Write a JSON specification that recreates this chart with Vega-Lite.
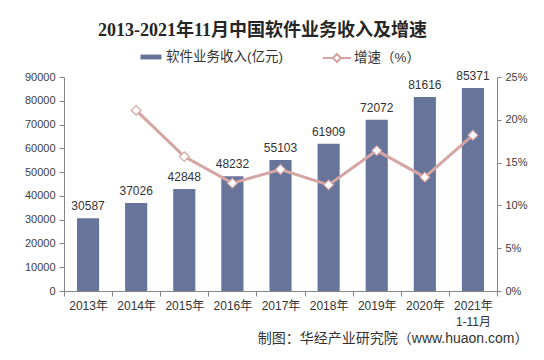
{
  "$schema": "https://vega.github.io/schema/vega-lite/v6.json",
  "width": 433,
  "height": 214,
  "autosize": {"type": "none"},
  "padding": {"left": 64, "top": 77, "right": 47, "bottom": 69},
  "background": "white",
  "config": {
    "view": {"stroke": null},
    "font": "Liberation Sans, Noto Sans CJK SC",
    "axis": {"grid": false, "domainColor": "#868686", "tickColor": "#868686", "labelColor": "#404040", "labelFont": "Liberation Sans, Noto Sans CJK SC", "titleFont": "Liberation Sans, Noto Sans CJK SC"}
  },
  "title": {
    "text": "2013-2021年11月中国软件业务收入及增速",
    "font": "Liberation Serif, Noto Sans CJK SC",
    "fontSize": 18,
    "fontWeight": "bold",
    "color": "#262626",
    "anchor": "middle",
    "dx": -18,
    "offset": 9
  },
  "data": {
    "values": [
      {"year": "2013年", "revenue": 30587, "growth": null},
      {"year": "2014年", "revenue": 37026, "growth": 21.1},
      {"year": "2015年", "revenue": 42848, "growth": 15.7},
      {"year": "2016年", "revenue": 48232, "growth": 12.6},
      {"year": "2017年", "revenue": 55103, "growth": 14.2},
      {"year": "2018年", "revenue": 61909, "growth": 12.4},
      {"year": "2019年", "revenue": 72072, "growth": 16.4},
      {"year": "2020年", "revenue": 81616, "growth": 13.3},
      {"year": "2021年", "revenue": 85371, "growth": 18.2}
    ]
  },
  "encoding": {
    "x": {
      "field": "year",
      "type": "nominal",
      "sort": null,
      "scale": {"paddingInner": 0, "paddingOuter": 0},
      "axis": {
        "labelAngle": 0,
        "labelFontSize": 12,
        "labelColor": "#333333",
        "tickBand": "extent",
        "tickSize": 5,
        "labelPadding": 4,
        "labelLineHeight": 16,
        "labelExpr": "datum.value == '2021年' ? ['2021年', '1-11月'] : datum.value",
        "title": "制图：华经产业研究院（www.huaon.com）",
        "titleFontSize": 14,
        "titleFontWeight": "normal",
        "titleColor": "#333333",
        "titleX": 464,
        "titleY": 47,
        "titleAlign": "right",
        "titleBaseline": "middle"
      }
    }
  },
  "layer": [
    {
      "encoding": {
        "y": {
          "field": "revenue",
          "type": "quantitative",
          "scale": {"domain": [0, 90000]},
          "axis": {"orient": "left", "values": [0, 10000, 20000, 30000, 40000, 50000, 60000, 70000, 80000, 90000], "format": "d", "title": null, "labelFontSize": 11, "tickSize": 5, "labelPadding": 4}
        }
      },
      "layer": [
        {
          "mark": {"type": "bar", "width": {"band": 0.46}},
          "encoding": {
            "fill": {
              "datum": "软件业务收入(亿元)",
              "scale": {"range": ["#68759b"]},
              "legend": {
                "title": null,
                "orient": "none",
                "legendX": 80,
                "legendY": -27,
                "symbolType": "M-1.5,-0.35H1.5V0.35H-1.5Z",
                "symbolSize": 196,
                "symbolStrokeWidth": 0,
                "labelOffset": 8,
                "labelFontSize": 13.5,
                "labelColor": "#333333"
              }
            }
          }
        },
        {
          "mark": {"type": "text", "baseline": "bottom", "dy": -5, "fontSize": 12, "color": "#333333"},
          "encoding": {"text": {"field": "revenue", "type": "quantitative", "format": "d"}}
        }
      ]
    },
    {
      "mark": {
        "type": "line",
        "strokeWidth": 3,
        "point": {"filled": true, "fill": "white", "shape": "diamond", "size": 95, "strokeWidth": 1.2}
      },
      "encoding": {
        "y": {
          "field": "growth",
          "type": "quantitative",
          "scale": {"domain": [0, 25]},
          "axis": {"orient": "right", "values": [0, 5, 10, 15, 20, 25], "labelExpr": "datum.value + '%'", "title": null, "labelFontSize": 11, "tickSize": 4, "labelPadding": 4}
        },
        "stroke": {
          "datum": "增速（%）",
          "scale": {"range": ["#d5a5a3"]},
          "legend": {
            "title": null,
            "orient": "none",
            "legendX": 264,
            "legendY": -28,
            "symbolType": "M-1.75,0H-0.5M0.5,0H1.75M-0.5,0L0,-0.5L0.5,0L0,0.5Z",
            "symbolSize": 256,
            "symbolStrokeWidth": 2,
            "symbolFillColor": "white",
            "labelOffset": 8,
            "labelFontSize": 13.5,
            "labelColor": "#333333"
          }
        }
      }
    }
  ],
  "resolve": {"scale": {"y": "independent"}, "legend": {"fill": "independent", "stroke": "independent"}}
}
